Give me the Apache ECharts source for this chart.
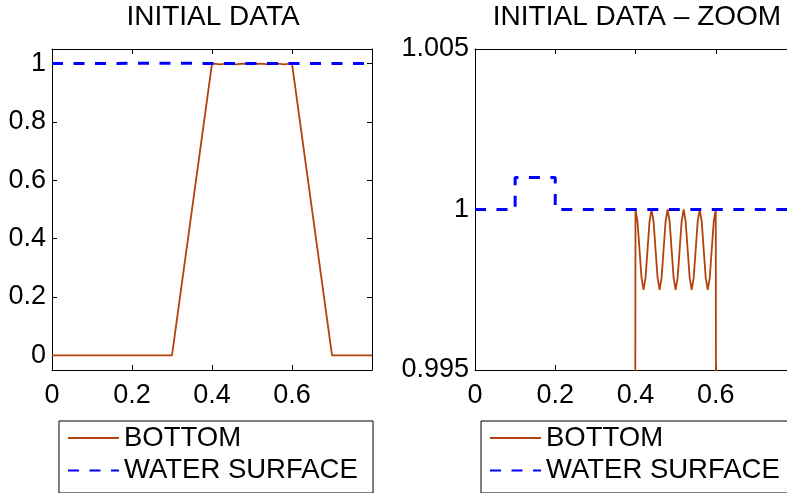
<!DOCTYPE html>
<html>
<head>
<meta charset="utf-8">
<script src="https://cdn.jsdelivr.net/npm/echarts@6/dist/echarts.min.js"></script>
<style>
html,body{margin:0;padding:0;background:#fff;}
#c{width:787px;height:493px;}
</style>
</head>
<body>
<div id="c"></div>
<script>
// ---- data ----
const titles = ['INITIAL DATA', 'INITIAL DATA \u2013 ZOOM'];
const seriesNames = ['BOTTOM', 'WATER SURFACE'];

// bottom profile (x, y)
const bottomX = [0, 0.3, 0.4, 0.405, 0.41, 0.415, 0.42, 0.425, 0.43, 0.435,
  0.44, 0.445, 0.45, 0.455, 0.46, 0.465, 0.47, 0.475,
  0.48, 0.485, 0.49, 0.495, 0.5, 0.505, 0.51, 0.515,
  0.52, 0.525, 0.53, 0.535, 0.54, 0.545, 0.55, 0.555,
  0.56, 0.565, 0.57, 0.575, 0.58, 0.585, 0.59, 0.595,
  0.6, 0.7, 0.8];
const bottomY = [0, 0, 1, 0.99963, 0.99875, 0.99787, 0.9975, 0.99787, 0.99875, 0.99963,
  1, 0.99963, 0.99875, 0.99787, 0.9975, 0.99787, 0.99875, 0.99963,
  1, 0.99963, 0.99875, 0.99787, 0.9975, 0.99787, 0.99875, 0.99963,
  1, 0.99963, 0.99875, 0.99787, 0.9975, 0.99787, 0.99875, 0.99963,
  1, 0.99963, 0.99875, 0.99787, 0.9975, 0.99787, 0.99875, 0.99963,
  1, 0, 0];

// water surface (x, y)
const waterX = [0, 0.1, 0.1, 0.2, 0.2, 0.8];
const waterY = [1, 1, 1.001, 1.001, 1, 1];

// axis ranges / tick labels
const xRange = [0, 0.8];
const xTickLabels = [0, 0.2, 0.4, 0.6];
const xTicks = [0, 0.2, 0.4, 0.6, 0.8];
const yRangeLeft = [-0.05, 1.05];
const yTickLabelsLeft = [0, 0.2, 0.4, 0.6, 0.8, 1];
const yRangeRight = [0.995, 1.005];
const yTickLabelsRight = [0.995, 1, 1.005];

// ---- build ----
const pair = (xs, ys) => xs.map((x, i) => [x, ys[i]]);
const FONT = 'Liberation Sans, Arial, sans-serif';
const BROWN = '#b3420f';
const BLUE = '#0000ff';
const DASH = [11, 10.5];

function xAxisDef(gi, pos, labels) {
  return {
    type: 'value', gridIndex: gi, position: pos, min: xRange[0], max: xRange[1],
    axisLine: { show: true, onZero: false, lineStyle: { color: '#000', width: 1 } },
    axisTick: { show: true, inside: true, length: 5, customValues: xTicks, lineStyle: { color: '#000' } },
    axisLabel: labels ? { show: true, customValues: xTickLabels, fontSize: 27, color: '#000', fontFamily: FONT, margin: 12 } : { show: false },
    splitLine: { show: false }
  };
}
function yAxisDef(gi, pos, range, ticks, labels) {
  return {
    type: 'value', gridIndex: gi, position: pos, min: range[0], max: range[1],
    axisLine: { show: true, onZero: false, lineStyle: { color: '#000', width: 1 } },
    axisTick: { show: true, inside: true, length: 5, customValues: ticks, lineStyle: { color: '#000' } },
    axisLabel: labels ? { show: true, customValues: ticks, fontSize: 27, color: '#000', fontFamily: FONT, margin: 6 } : { show: false },
    splitLine: { show: false }
  };
}
function legendDef(left) {
  return {
    orient: 'vertical', left: left, top: 419,
    borderWidth: 0,
    padding: [4, 0, 5, 10],
    itemWidth: 51, itemHeight: 14, itemGap: 2.5,
    itemStyle: { color: 'rgba(0,0,0,0)', borderWidth: 0, opacity: 0 },
    textStyle: { fontSize: 27.5, color: '#000', fontFamily: FONT, lineHeight: 30 },
    data: seriesNames,
    selectedMode: false
  };
}

const option = {
  animation: false,
  backgroundColor: '#fff',
  title: [
    { text: titles[0], left: 213, top: 3, textAlign: 'center', padding: 0,
      textStyle: { fontSize: 28, fontWeight: 'normal', color: '#000', fontFamily: FONT } },
    { text: titles[1], left: 637, top: 3, textAlign: 'center', padding: 0,
      textStyle: { fontSize: 28, fontWeight: 'normal', color: '#000', fontFamily: FONT } }
  ],
  legend: [legendDef(57), legendDef(479)],
  graphic: [
    { type: 'rect', left: 56.5, top: 418.5, shape: { width: 314, height: 72 },
      style: { fill: 'none', stroke: '#000', lineWidth: 1 }, z: 100 },
    { type: 'rect', left: 478.5, top: 418.5, shape: { width: 314, height: 72 },
      style: { fill: 'none', stroke: '#000', lineWidth: 1 }, z: 100 }
  ],
  grid: [
    { left: 52, top: 49, width: 320, height: 321, containLabel: false, outerBoundsMode: 'none' },
    { left: 475, top: 49, width: 321, height: 321, containLabel: false, outerBoundsMode: 'none' }
  ],
  xAxis: [
    xAxisDef(0, 'bottom', true), xAxisDef(0, 'top', false),
    xAxisDef(1, 'bottom', true), xAxisDef(1, 'top', false)
  ],
  yAxis: [
    yAxisDef(0, 'left', yRangeLeft, yTickLabelsLeft, true), yAxisDef(0, 'right', yRangeLeft, yTickLabelsLeft, false),
    yAxisDef(1, 'left', yRangeRight, yTickLabelsRight, true), yAxisDef(1, 'right', yRangeRight, yTickLabelsRight, false)
  ],
  series: [
    { name: seriesNames[0], type: 'line', xAxisIndex: 0, yAxisIndex: 0, data: pair(bottomX, bottomY),
      showSymbol: false, symbol: 'none', clip: true, color: BROWN, lineStyle: { color: BROWN, width: 1.8 } },
    { name: seriesNames[1], type: 'line', xAxisIndex: 0, yAxisIndex: 0, data: pair(waterX, waterY),
      showSymbol: false, symbol: 'none', clip: true, color: BLUE, lineStyle: { color: BLUE, width: 3, type: DASH } },
    { name: seriesNames[0], type: 'line', xAxisIndex: 2, yAxisIndex: 2, data: pair(bottomX, bottomY),
      showSymbol: false, symbol: 'none', clip: true, color: BROWN, lineStyle: { color: BROWN, width: 1.8 } },
    { name: seriesNames[1], type: 'line', xAxisIndex: 2, yAxisIndex: 2, data: pair(waterX, waterY),
      showSymbol: false, symbol: 'none', clip: true, color: BLUE, lineStyle: { color: BLUE, width: 3, type: DASH } }
  ]
};

const chart = echarts.init(document.getElementById('c'), null, { renderer: 'canvas' });
chart.setOption(option);
</script>
</body>
</html>
